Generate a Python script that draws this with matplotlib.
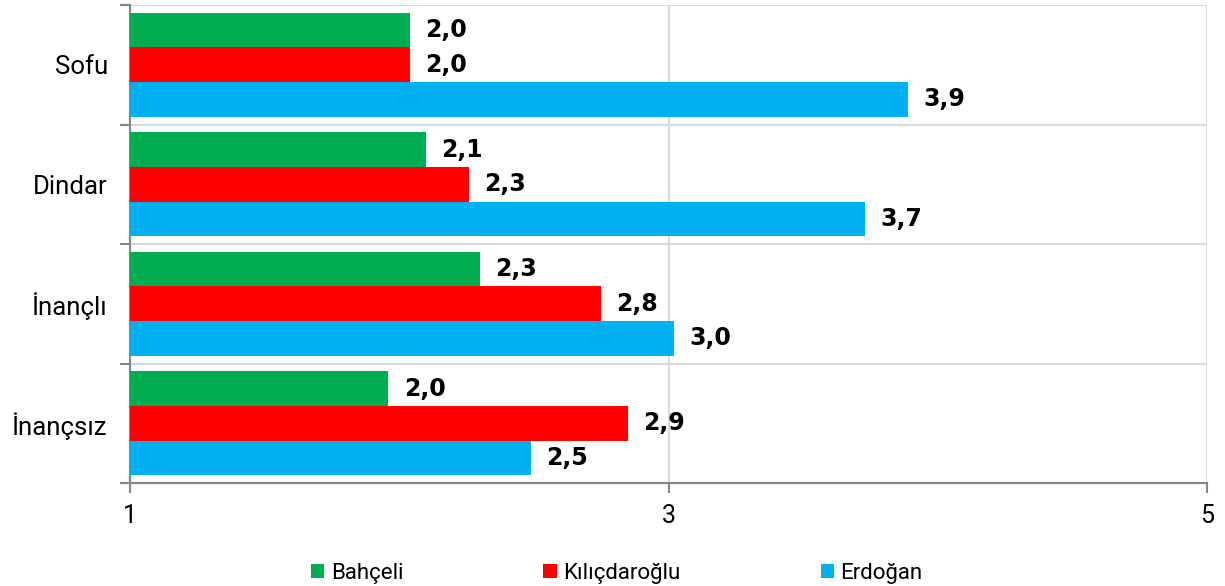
import matplotlib.pyplot as plt
import numpy as np

categories = ["Sofu", "Dindar", "İnançlı", "İnançsız"]
series_names = ["Bahçeli", "Kılıçdaroğlu", "Erdoğan"]
bahceli = [2.04, 2.10, 2.30, 1.96]
kilicdaroglu = [2.04, 2.26, 2.75, 2.85]
erdogan = [3.89, 3.73, 3.02, 2.49]
x_ticks = [1, 3, 5]

COLORS = ["#00AD50", "#FF0000", "#00B0F0"]
GRID = "#D9D9D9"
AXIS = "#868686"

plt.rcParams["font.family"] = ["Roboto", "DejaVu Sans"]

fig = plt.figure(figsize=(12.25, 5.86), dpi=100)
ax = fig.add_axes([130 / 1225, 1 - 483 / 586, 1077 / 1225, 478 / 586])

y = np.arange(len(categories))
h = 0.29
values = [bahceli, kilicdaroglu, erdogan]
for i, (name, vals, col) in enumerate(zip(series_names, values, COLORS)):
    pos = y + (i - 1) * h
    bars = ax.barh(pos, np.array(vals) - 1, h, left=1, color=col, label=name, zorder=3)
    for b, v in zip(bars, vals):
        ax.annotate(f"{v:.1f}".replace(".", ","),
                    xy=(v, b.get_y() + b.get_height() / 2),
                    xytext=(11, 0), textcoords="offset points",
                    ha="left", va="center", fontsize=17,
                    fontweight="black", family=["DejaVu Sans"])

ax.set_xlim(1, 5)
ax.set_ylim(len(categories) - 0.5, -0.5)
ax.set_xticks(x_ticks)
ax.set_xticklabels([str(t) for t in x_ticks], fontsize=18)
ax.set_yticks(y)
ax.set_yticklabels(categories, fontsize=18.5)
ax.set_yticks(np.arange(len(categories) + 1) - 0.5, minor=True)
ax.tick_params(axis="y", which="major", length=0, pad=16)
ax.tick_params(axis="y", which="minor", length=7, color=AXIS, width=1.5)
ax.tick_params(axis="x", which="major", length=7, color=AXIS, width=1.5, pad=8)

ax.grid(axis="x", color=GRID, lw=1.5, zorder=0)
ax.grid(axis="y", which="minor", color=GRID, lw=1.5, zorder=0)
for s in ["top", "right"]:
    ax.spines[s].set_visible(False)
ax.spines["left"].set_color(AXIS)
ax.spines["left"].set_linewidth(1.5)
ax.spines["bottom"].set_color(AXIS)
ax.spines["bottom"].set_linewidth(1.5)

ax.legend(loc="upper center", bbox_to_anchor=(0.452, -0.125), ncol=3, frameon=False,
          fontsize=16, handlelength=0.6, handleheight=0.6, handletextpad=0.3,
          columnspacing=6.3)

fig.savefig("out.png", dpi=100, facecolor="white")
